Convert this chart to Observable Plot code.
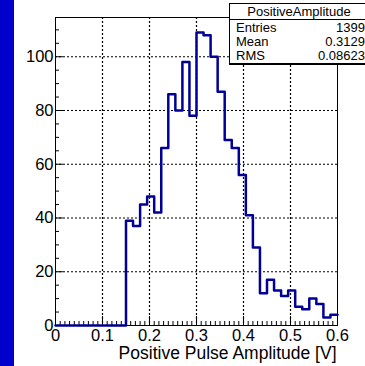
<!DOCTYPE html>
<html><head><meta charset="utf-8">
<script src="https://cdn.jsdelivr.net/npm/d3@7"></script>
<script src="https://cdn.jsdelivr.net/npm/@observablehq/plot@0.6"></script>
<style>
body{margin:0;background:#fff;overflow:hidden;width:365px;height:366px;position:relative;font-family:"Liberation Sans",Arial,sans-serif}
#strip{position:absolute;left:0;top:0;width:14px;height:366px;background:#0000cc}
#chart{position:absolute;left:0;top:0}
#stats{position:absolute;left:229px;top:3px;width:140px;height:62px;border:1px solid #000;border-bottom-width:2px;background:#fff;font-size:13px;color:#000;box-sizing:border-box}
#stats .t{height:16px;line-height:16px;border-bottom:1px solid #000;width:138px;text-align:center;box-sizing:border-box}
#stats .r{height:14px;line-height:14px;display:flex;justify-content:space-between;width:135px;padding-left:6px;box-sizing:border-box}
#stats .t + .r{margin-top:1px}
</style></head>
<body>
<div id="strip"></div>
<div id="chart"></div>
<div id="stats"></div>
<script>
// Histogram data: 40 bins of width 0.015 V from 0 to 0.6 V
const binEdges = [0,0.015,0.03,0.045,0.06,0.075,0.09,0.105,0.12,0.135,0.15,0.165,0.18,0.195,0.21,0.225,0.24,0.255,0.27,0.285,0.3,0.315,0.33,0.345,0.36,0.375,0.39,0.405,0.42,0.435,0.45,0.465,0.48,0.495,0.51,0.525,0.54,0.555,0.57,0.585,0.6];
const binCounts = [0,0,0,0,0,0,0,0,0,0,39,37,45,48,42,66,86,80,98,78,109,108,100,87,69,66,56,41,29,12,17,13,11,13,7,6,10,8,3,4];
const xMajorTicks = [0,0.1,0.2,0.3,0.4,0.5,0.6];
const yMajorTicks = [0,20,40,60,80,100];
const xGridLines = [0.1,0.2,0.3,0.4,0.5];
const yGridLines = [20,40,60,80,100];
const statsTitle = "PositiveAmplitude";
const statsLabels = ["Entries","Mean","RMS"];
const statsValues = ["1399","0.3129","0.08623"];
const xLabel = "Positive Pulse Amplitude [V]";

const xMinorTicks = d3.range(0, 61).map(i => i / 100).filter(v => Math.round(v * 100) % 10 !== 0);
const yMinorTicks = d3.range(0, 23).map(i => i * 5).filter(v => v % 20 !== 0);

const points = binCounts.map((c, i) => ({x: binEdges[i], y: c}));
points.push({x: binEdges[binEdges.length - 1], y: binCounts[binCounts.length - 1]});

const W = 365, H = 366, mL = 55, mR = 28, mT = 17, mB = 41;
const pw = W - mL - mR, ph = H - mT - mB;

const chart = Plot.plot({
  width: W, height: H,
  marginLeft: mL, marginRight: mR, marginTop: mT, marginBottom: mB,
  style: {fontSize: "16.5px", fontFamily: "'Liberation Sans', Arial, sans-serif", color: "#000", background: "transparent"},
  x: {domain: [0, 0.6], ticks: xMajorTicks, tickSize: 0, tickPadding: 4, tickFormat: d3.format("~g"), label: null},
  y: {domain: [0, 114.6], ticks: yMajorTicks, tickSize: 0, tickPadding: 2, tickFormat: d3.format("~g"), label: null},
  marks: [
    Plot.ruleX(xGridLines, {stroke: "#000", strokeWidth: 1.2, strokeDasharray: "2,2"}),
    Plot.ruleY(yGridLines, {stroke: "#000", strokeWidth: 1.2, strokeDasharray: "2,2"}),
    Plot.ruleX(xMinorTicks, {stroke: "#000", insetTop: ph - 4}),
    Plot.ruleX(xMajorTicks, {stroke: "#000", insetTop: ph - 9}),
    Plot.ruleY(yMinorTicks, {stroke: "#000", insetRight: pw - 4}),
    Plot.ruleY(yMajorTicks, {stroke: "#000", insetRight: pw - 8}),
    Plot.line(points, {x: "x", y: "y", curve: "step-after", stroke: "#000099", strokeWidth: 2.5}),
    Plot.frame({stroke: "#000", strokeWidth: 1}),
    Plot.text([xLabel], {frameAnchor: "bottom-right", text: d => d, textAnchor: "end", dx: -1, dy: 33, fontSize: 17.5, fill: "#000"})
  ]
});
document.getElementById("chart").appendChild(chart);

const stats = document.getElementById("stats");
const t = document.createElement("div"); t.className = "t"; t.textContent = statsTitle; stats.appendChild(t);
statsLabels.forEach((l, i) => {
  const r = document.createElement("div"); r.className = "r";
  const a = document.createElement("span"); a.textContent = l;
  const b = document.createElement("span"); b.textContent = statsValues[i];
  r.appendChild(a); r.appendChild(b); stats.appendChild(r);
});
</script>
</body></html>
